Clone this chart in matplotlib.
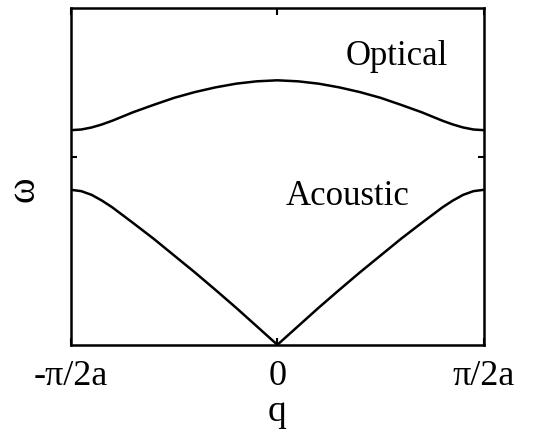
import matplotlib
matplotlib.use("Agg")
import matplotlib.pyplot as plt

plt.rcParams['font.family'] = ['Liberation Serif', 'DejaVu Serif']

# wavevector, in units of pi/2a
q = [-1.0, -0.95, -0.9, -0.85, -0.8, -0.7, -0.6, -0.5, -0.4, -0.3, -0.2, -0.1, 0.0,
     0.1, 0.2, 0.3, 0.4, 0.5, 0.6, 0.7, 0.8, 0.85, 0.9, 0.95, 1.0]

# frequencies (axis top = 1)
optical = [0.637, 0.639, 0.645, 0.654, 0.665, 0.690, 0.712, 0.733, 0.750, 0.764, 0.775, 0.782, 0.785,
           0.782, 0.775, 0.764, 0.750, 0.733, 0.712, 0.690, 0.665, 0.654, 0.645, 0.639, 0.637]
acoustic = [0.460, 0.456, 0.445, 0.428, 0.408, 0.362, 0.315, 0.265, 0.215, 0.163, 0.110, 0.055, 0.0,
            0.055, 0.110, 0.163, 0.215, 0.265, 0.315, 0.362, 0.408, 0.428, 0.445, 0.456, 0.460]

xticks = [-1, 0, 1]
xticklabels = ['-\u03c0/2a', '0', '\u03c0/2a']
ytick = [0.558]

fig = plt.figure(figsize=(5.46, 4.37), dpi=100)
ax = fig.add_axes([0.130, 0.211, 0.756, 0.771])

ax.plot(q, optical, color='black', lw=1.8)
ax.plot(q, acoustic, color='black', lw=1.8)

ax.set_xlim(-1, 1)
ax.set_ylim(0, 1)

ax.set_xticks(xticks)
ax.set_xticklabels(xticklabels, fontsize=26)
ax.set_yticks(ytick)
ax.set_yticklabels([])
ax.tick_params(axis='x', direction='in', top=True, length=5, width=1.5, pad=11)
ax.tick_params(axis='y', direction='in', right=True, length=4, width=1.5)

for s in ax.spines.values():
    s.set_linewidth(1.8)

ax.set_xlabel('q', fontsize=27, labelpad=1)
ax.set_ylabel('\u03c9', fontsize=28)
ax.yaxis.set_label_coords(-0.07, 0.463)

ax.text(0.58, 0.855, 'Optical', fontsize=25, ha='center', va='center')
ax.text(0.34, 0.44, 'Acoustic', fontsize=25, ha='center', va='center')

fig.savefig('out.png', dpi=100)
